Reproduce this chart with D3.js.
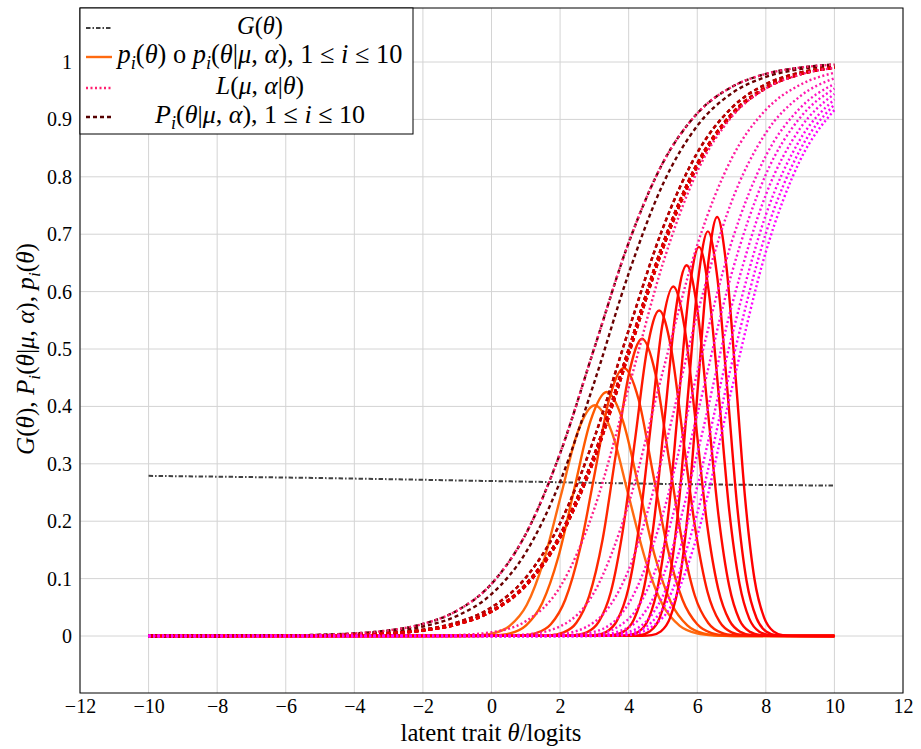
<!DOCTYPE html>
<html><head><meta charset="utf-8">
<script src="https://cdn.jsdelivr.net/npm/d3@7"></script>
<style>body{margin:0;background:#fff;} svg{display:block;font-family:"Liberation Serif","DejaVu Serif",serif;}</style>
</head><body><svg id="chart" width="921" height="749"></svg>
<script>
// ---------- data ----------
const xTicks = [-12,-10,-8,-6,-4,-2,0,2,4,6,8,10,12];
const yTicks = [0,0.1,0.2,0.3,0.4,0.5,0.6,0.7,0.8,0.9,1];
const thetaGrid = [-10,-9,-8,-7,-6,-5,-4,-3,-2,-1,0,1,2,3,4,5,6,7,8,9,10];

// G(theta)
const gTheta  = [-10,-5,0,5,10];
const gValues = [0.279,0.2752,0.2700,0.2650,0.262];

// P_i item curves (dashed), values at thetaGrid
const P_A = [0.00005,0.0001,0.00021,0.00046,0.00099,0.00212,0.00457,0.00983,0.0210,0.0443,0.0909,0.1777,0.3181,0.5019,0.6852,0.8246,0.9104,0.9564,0.9793,0.9903,0.9955];
const P_B = [0.00004,0.00008,0.00017,0.00036,0.00078,0.00168,0.00361,0.00776,0.0166,0.0352,0.0730,0.1454,0.2688,0.4425,0.6316,0.7874,0.8888,0.9452,0.9739,0.9877,0.9943];
const P_C = [0.00002,0.00005,0.00011,0.00024,0.00052,0.00111,0.0024,0.00517,0.0111,0.0237,0.0498,0.1017,0.1964,0.3455,0.5327,0.7111,0.8417,0.9199,0.9612,0.9817,0.9914];
const P_D = [0.00002,0.00005,0.0001,0.00021,0.00045,0.00098,0.00211,0.00454,0.00975,0.0208,0.0440,0.0903,0.1765,0.3165,0.5,0.6835,0.8235,0.9097,0.9560,0.9792,0.9903];
const P_E = [0.00002,0.00004,0.00009,0.0002,0.00044,0.00094,0.00203,0.00437,0.00939,0.0201,0.0424,0.0872,0.1710,0.3082,0.4904,0.6751,0.8178,0.9065,0.9544,0.9784,0.9899];
const PCurves = [P_A,P_B,P_C,P_D,P_E,P_C,P_D,P_E,P_D,P_E];

// L(mu,alpha|theta) curves (dotted), values at thetaGrid
const L1 = P_A;
const L2 = [0,0,0,0,0,0,0,0.0001,0.0004,0.0016,0.0066,0.0258,0.0855,0.2221,0.4328,0.6493,0.8092,0.9040,0.9537,0.9782,0.9898];
const L3 = [0,0,0,0,0,0,0,0,0,0,0.0003,0.0026,0.0168,0.0767,0.2305,0.4617,0.6811,0.8316,0.9167,0.9603,0.9813];
const L4 = [0,0,0,0,0,0,0,0,0,0,0,0.0002,0.0030,0.0243,0.1153,0.3156,0.5609,0.7565,0.8764,0.9403,0.9717];
const L5 = [0,0,0,0,0,0,0,0,0,0,0,0,0.0005,0.0075,0.0565,0.2131,0.4587,0.6858,0.8364,0.9199,0.9619];
const L6 = [0,0,0,0,0,0,0,0,0,0,0,0,0.0001,0.0026,0.0301,0.1515,0.3861,0.6308,0.8040,0.9031,0.9537];
const L7 = [0,0,0,0,0,0,0,0,0,0,0,0,0,0.0008,0.0151,0.1036,0.3179,0.5739,0.7686,0.8843,0.9444];
const L8 = [0,0,0,0,0,0,0,0,0,0,0,0,0,0.0003,0.0074,0.0699,0.2600,0.5202,0.7336,0.8651,0.9348];
const L9 = [0,0,0,0,0,0,0,0,0,0,0,0,0,0.0001,0.0037,0.0478,0.2141,0.4732,0.7013,0.8471,0.9257];
const L10= [0,0,0,0,0,0,0,0,0,0,0,0,0,0,0.0018,0.0323,0.1751,0.4290,0.6693,0.8288,0.9163];
const LCurves = [L1,L2,L3,L4,L5,L6,L7,L8,L9,L10];

// p_i curves (solid), [theta, value] points
const p1 = [[-10,0],[-0.96,0.0001],[-0.46,0.0009],[0.03,0.0045],[0.53,0.0177],[1.03,0.0544],[1.52,0.1305],[2.02,0.2438],[2.51,0.3548],[3.01,0.402],[3.51,0.3548],[4.00,0.2438],[4.50,0.1305],[4.99,0.0544],[5.49,0.0177],[5.99,0.0045],[6.48,0.0009],[6.98,0.0001],[10,0]];
const p2 = [[-10,0],[-0.40,0.0001],[0.07,0.0009],[0.54,0.0047],[1.01,0.0187],[1.48,0.0575],[1.95,0.138],[2.42,0.2578],[2.89,0.3751],[3.36,0.425],[3.83,0.3751],[4.30,0.2578],[4.77,0.138],[5.24,0.0575],[5.71,0.0187],[6.18,0.0047],[6.65,0.0009],[7.12,0.0001],[10,0]];
const p3 = [[-10,0],[0.44,0.0002],[0.87,0.001],[1.30,0.0052],[1.73,0.0205],[2.15,0.0632],[2.58,0.1516],[3.01,0.2832],[3.43,0.4121],[3.86,0.467],[4.29,0.4121],[4.71,0.2832],[5.14,0.1516],[5.57,0.0632],[6.00,0.0205],[6.42,0.0052],[6.85,0.001],[7.28,0.0002],[10,0]];
const p4 = [[-10,0],[1.31,0.0002],[1.70,0.0011],[2.08,0.0058],[2.47,0.0227],[2.85,0.0701],[3.24,0.1682],[3.62,0.3142],[4.01,0.4571],[4.39,0.518],[4.78,0.4571],[5.16,0.3142],[5.55,0.1682],[5.93,0.0701],[6.32,0.0227],[6.70,0.0058],[7.09,0.0011],[7.47,0.0002],[10,0]];
const p5 = [[-10,0],[2.07,0.0002],[2.43,0.0012],[2.78,0.0063],[3.13,0.0249],[3.48,0.0767],[3.83,0.1841],[4.19,0.3439],[4.54,0.5004],[4.89,0.567],[5.24,0.5004],[5.59,0.3439],[5.95,0.1841],[6.30,0.0767],[6.65,0.0249],[7.00,0.0063],[7.35,0.0012],[7.71,0.0002],[10,0]];
const p6 = [[-10,0],[2.68,0.0002],[3.01,0.0013],[3.34,0.0068],[3.66,0.0267],[3.99,0.0824],[4.32,0.1977],[4.65,0.3694],[4.97,0.5374],[5.30,0.609],[5.63,0.5374],[5.96,0.3694],[6.28,0.1977],[6.61,0.0824],[6.94,0.0267],[7.27,0.0068],[7.59,0.0013],[7.92,0.0002],[10,0]];
const p7 = [[-10,0],[3.22,0.0002],[3.53,0.0014],[3.84,0.0072],[4.15,0.0284],[4.46,0.0874],[4.76,0.2098],[5.07,0.3918],[5.38,0.5701],[5.69,0.646],[6.00,0.5701],[6.31,0.3918],[6.62,0.2098],[6.93,0.0874],[7.23,0.0284],[7.54,0.0072],[7.85,0.0014],[8.16,0.0002],[10,0]];
const p8 = [[-10,0],[3.70,0.0002],[3.99,0.0015],[4.29,0.0075],[4.58,0.0298],[4.87,0.0917],[5.17,0.2201],[5.46,0.4112],[5.76,0.5983],[6.05,0.678],[6.34,0.5983],[6.64,0.4112],[6.93,0.2201],[7.23,0.0917],[7.52,0.0298],[7.81,0.0075],[8.11,0.0015],[8.40,0.0002],[10,0]];
const p9 = [[-10,0],[4.05,0.0002],[4.33,0.0015],[4.61,0.0078],[4.90,0.0309],[5.18,0.0954],[5.46,0.2289],[5.74,0.4276],[6.03,0.6222],[6.31,0.705],[6.59,0.6222],[6.88,0.4276],[7.16,0.2289],[7.44,0.0954],[7.73,0.0309],[8.01,0.0078],[8.29,0.0015],[8.57,0.0002],[10,0]];
const p10= [[-10,0],[4.39,0.0002],[4.67,0.0016],[4.94,0.0081],[5.21,0.032],[5.49,0.0988],[5.76,0.237],[6.03,0.4427],[6.31,0.6442],[6.58,0.73],[6.85,0.6442],[7.13,0.4427],[7.40,0.237],[7.67,0.0988],[7.95,0.032],[8.22,0.0081],[8.49,0.0016],[8.77,0.0002],[10,0]];
const pCurves = [p1,p2,p3,p4,p5,p6,p7,p8,p9,p10];

// colours
const pColors = ["#ff6a10","#ff5a00","#ff3c00","#ff2800","#ff1800","#ff0e00","#ff0800","#ff0400","#ff0200","#ff0000"];
const PColors = ["#550000","#6a0000","#880000","#9c0000","#ae0000","#bc0000","#c80000","#d20000","#dc0000","#e40000"];
const LColors = ["#ff2070","#ff1d87","#ff1a9e","#ff17b2","#ff13c4","#ff0fd3","#ff0be0","#ff07eb","#ff03f5","#ff00ff"];
const gColor = "#404040";

// ---------- drawing ----------
const FONT = "Liberation Serif, serif";
const svg = d3.select("#chart");
const x = d3.scaleLinear().domain([-12,12]).range([80,903]);
const y = d3.scaleLinear().domain([-0.0993,1.0941]).range([693,8]);

// grid
svg.append("g").selectAll("line").data(xTicks).join("line")
  .attr("x1",d=>x(d)).attr("x2",d=>x(d)).attr("y1",8).attr("y2",693)
  .attr("stroke","#d4d4d4").attr("stroke-width",1);
svg.append("g").selectAll("line").data(yTicks).join("line")
  .attr("y1",d=>y(d)).attr("y2",d=>y(d)).attr("x1",80).attr("x2",903)
  .attr("stroke","#d4d4d4").attr("stroke-width",1);

// tick labels via axes
const fmtX = d=> d<0 ? "\u2212"+Math.abs(d) : String(d);
const xAxis = svg.append("g").attr("transform","translate(0,693)")
  .call(d3.axisBottom(x).tickValues(xTicks).tickFormat(fmtX).tickSize(0).tickPadding(6));
const yAxis = svg.append("g").attr("transform","translate(80,0)")
  .call(d3.axisLeft(y).tickValues(yTicks).tickFormat(d=>d3.format("~g")(d)).tickSize(0).tickPadding(8));
[xAxis,yAxis].forEach(a=>{a.select(".domain").remove();
  a.attr("font-family",FONT);
  a.selectAll("text").attr("font-family",FONT).attr("font-size",20).attr("fill","#000");});

const clip = svg.append("clipPath").attr("id","clip").append("rect")
  .attr("x",80).attr("y",8).attr("width",823).attr("height",685);
const plot = svg.append("g").attr("clip-path","url(#clip)");

const lineGrid = d3.line().x((d,i)=>x(thetaGrid[i])).y(d=>y(d)).curve(d3.curveMonotoneX);
const linePts = d3.line().x(d=>x(d[0])).y(d=>y(d[1])).curve(d3.curveMonotoneX);
const lineG = d3.line().x((d,i)=>x(gTheta[i])).y(d=>y(d)).curve(d3.curveMonotoneX);

plot.append("path").attr("d",lineG(gValues)).attr("fill","none")
  .attr("stroke",gColor).attr("stroke-width",2).attr("stroke-dasharray","4.5,2,1.5,2");

pCurves.forEach((c,i)=>plot.append("path").attr("d",linePts(c)).attr("fill","none")
  .attr("stroke",pColors[i]).attr("stroke-width",2.4));
PCurves.forEach((c,i)=>plot.append("path").attr("d",lineGrid(c)).attr("fill","none")
  .attr("stroke",PColors[i]).attr("stroke-width",2.4).attr("stroke-dasharray","4,3"));
LCurves.forEach((c,i)=>plot.append("path").attr("d",lineGrid(c)).attr("fill","none")
  .attr("stroke",LColors[i]).attr("stroke-width",2.4).attr("stroke-dasharray","2,2.5"));

// frame
svg.append("rect").attr("x",80).attr("y",8).attr("width",823).attr("height",685)
  .attr("fill","none").attr("stroke","#000").attr("stroke-width",1);

// math text helper: segments [text, style] style 0 upright,1 italic,2 italic subscript
function buildMath(t, segs, size){
  t.selectAll("tspan").remove();
  t.attr("font-size",size);
  let shifted = 0;
  segs.forEach(s=>{
    const ts = t.append("tspan").text(s[0]);
    if (s[1]>=1) ts.attr("font-style","italic");
    if (s[1]===2){ ts.attr("font-size",size*0.7).attr("dy",size*0.22); shifted = size*0.22; }
    else if (shifted){ ts.attr("dy",-shifted); shifted = 0; }
  });
}
// size the text so that its natural width matches the width in the picture
function mathText(parent, segs, size, width){
  const t = parent.append("text").attr("fill","#000").attr("font-family",FONT);
  buildMath(t, segs, size);
  if (width){
    const w = t.node().getComputedTextLength();
    if (w>0) buildMath(t, segs, size*width/w);
  }
  return t;
}

// legend
const leg = svg.append("g");
leg.append("rect").attr("x",80).attr("y",8).attr("width",333).attr("height",126)
  .attr("fill","#fff").attr("stroke","#000").attr("stroke-width",1);
const legRows = [
  {y:28, color:gColor, dash:"4.5,2,1.5,2", w:2, segs:[["G",1],["(",0],["θ",1],[")",0]], len:46},
  {y:57, color:pColors[0], dash:null, w:2.4, segs:[["p",1],["i",2],["(",0],["θ",1],[") o ",0],["p",1],["i",2],["(",0],["θ",1],["|",0],["μ",1],[", ",0],["α",1],["), 1 ≤ ",0],["i",1],[" ≤ 10",0]], len:285},
  {y:88, color:LColors[0], dash:"2,2.5", w:2.4, segs:[["L",1],["(",0],["μ",1],[", ",0],["α",1],["|",0],["θ",1],[")",0]], len:88},
  {y:117, color:PColors[0], dash:"4,3", w:2.4, segs:[["P",1],["i",2],["(",0],["θ",1],["|",0],["μ",1],[", ",0],["α",1],["), 1 ≤ ",0],["i",1],[" ≤ 10",0]], len:210}
];
legRows.forEach(r=>{
  const l = leg.append("line").attr("x1",86).attr("x2",112).attr("y1",r.y).attr("y2",r.y)
    .attr("stroke",r.color).attr("stroke-width",r.w);
  if (r.dash) l.attr("stroke-dasharray",r.dash);
  mathText(leg, r.segs, 20, r.len).attr("x",260).attr("y",r.y+6).attr("text-anchor","middle");
});

// axis labels
mathText(svg, [["latent trait ",0],["θ",1],["/logits",0]], 20, 181)
  .attr("x",491).attr("y",741).attr("text-anchor","middle");
mathText(svg, [["G",1],["(",0],["θ",1],["), ",0],["P",1],["i",2],["(",0],["θ",1],["|",0],["μ",1],[", ",0],["α",1],["), ",0],["p",1],["i",2],["(",0],["θ",1],[")",0]], 20, 212)
  .attr("text-anchor","middle").attr("transform","translate(34,349) rotate(-90)");
</script></body></html>
